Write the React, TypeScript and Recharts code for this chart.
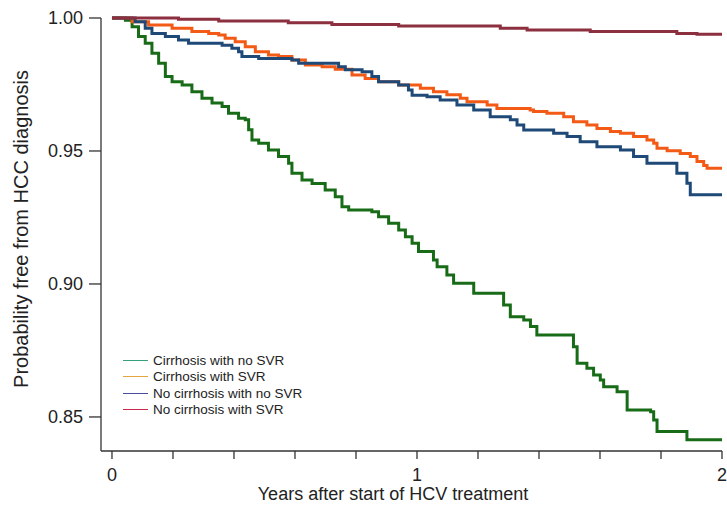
import { LineChart, Line, XAxis, YAxis, Legend } from "recharts";

// Kaplan-Meier estimates (years, survival)
const cirrNoSvrTimes = [0, 0.044, 0.066, 0.087, 0.109, 0.131, 0.153, 0.175, 0.197, 0.23, 0.262, 0.295, 0.328, 0.361, 0.382, 0.415, 0.437, 0.448, 0.459, 0.481, 0.513, 0.546, 0.579, 0.59, 0.623, 0.656, 0.699, 0.732, 0.754, 0.776, 0.852, 0.874, 0.907, 0.94, 0.962, 0.984, 1.005, 1.054, 1.066, 1.098, 1.12, 1.186, 1.284, 1.306, 1.35, 1.372, 1.393, 1.513, 1.525, 1.557, 1.579, 1.601, 1.612, 1.656, 1.689, 1.766, 1.776, 1.787, 1.885, 2.0];
const cirrNoSvrSurv = [1.0, 0.9992, 0.9967, 0.993, 0.9905, 0.9867, 0.983, 0.978, 0.976, 0.9748, 0.9723, 0.9698, 0.968, 0.9667, 0.9642, 0.9623, 0.9617, 0.958, 0.9541, 0.9529, 0.9504, 0.9479, 0.9454, 0.9416, 0.9391, 0.9378, 0.9353, 0.9328, 0.929, 0.9278, 0.9272, 0.9253, 0.9228, 0.9203, 0.9178, 0.9153, 0.9122, 0.909, 0.9065, 0.9034, 0.9003, 0.8965, 0.8921, 0.8877, 0.8865, 0.884, 0.8808, 0.8764, 0.8702, 0.8683, 0.8658, 0.8639, 0.8614, 0.8595, 0.8526, 0.852, 0.8489, 0.8445, 0.8414, 0.8414];

const cirrSvrTimes = [0, 0.066, 0.12, 0.197, 0.262, 0.317, 0.35, 0.371, 0.404, 0.437, 0.47, 0.513, 0.546, 0.59, 0.634, 0.689, 0.732, 0.787, 0.83, 0.874, 0.94, 1.011, 1.054, 1.098, 1.142, 1.164, 1.23, 1.262, 1.371, 1.382, 1.426, 1.481, 1.513, 1.557, 1.59, 1.634, 1.667, 1.71, 1.754, 1.776, 1.787, 1.82, 1.863, 1.896, 1.918, 1.94, 1.951, 2.0];
const cirrSvrSurv = [1.0, 0.9986, 0.9974, 0.9961, 0.9949, 0.9942, 0.9936, 0.9924, 0.9911, 0.9892, 0.9873, 0.9861, 0.9855, 0.9842, 0.9823, 0.9817, 0.9807, 0.9786, 0.9773, 0.976, 0.9748, 0.9736, 0.9723, 0.9711, 0.9698, 0.9685, 0.9673, 0.966, 0.9654, 0.9648, 0.9642, 0.9629, 0.961, 0.9598, 0.9585, 0.9573, 0.9567, 0.9554, 0.9541, 0.9529, 0.951, 0.9501, 0.9491, 0.9479, 0.946, 0.9445, 0.9435, 0.9435];

const noCirrNoSvrTimes = [0, 0.076, 0.109, 0.131, 0.175, 0.218, 0.251, 0.361, 0.393, 0.415, 0.426, 0.481, 0.59, 0.612, 0.743, 0.765, 0.82, 0.852, 0.874, 0.94, 0.972, 0.984, 1.033, 1.076, 1.131, 1.186, 1.24, 1.306, 1.328, 1.35, 1.448, 1.492, 1.535, 1.59, 1.667, 1.71, 1.754, 1.852, 1.885, 1.896, 2.0];
const noCirrNoSvrSurv = [1.0, 0.9986, 0.9961, 0.9942, 0.993, 0.9917, 0.9905, 0.9898, 0.9886, 0.9873, 0.9855, 0.9848, 0.9842, 0.983, 0.9817, 0.9805, 0.9798, 0.978, 0.976, 0.9748, 0.9729, 0.971, 0.9704, 0.9692, 0.9673, 0.9654, 0.9629, 0.9617, 0.9598, 0.9579, 0.9567, 0.9554, 0.9535, 0.9516, 0.9504, 0.9479, 0.9454, 0.9416, 0.9379, 0.9335, 0.9335];

const noCirrSvrTimes = [0, 0.218, 0.35, 0.578, 0.721, 0.94, 1.273, 1.361, 1.568, 1.852, 1.918, 2.0];
const noCirrSvrSurv = [1.0, 0.9995, 0.9989, 0.9982, 0.9976, 0.997, 0.9961, 0.9955, 0.9949, 0.9942, 0.9939, 0.9939];

const xTicks = [0, 0.2, 0.4, 0.6, 0.8, 1, 1.2, 1.4, 1.6, 1.8, 2];
const yTicks = [0.85, 0.9, 0.95, 1.0];

const toPoints = (times: number[], surv: number[]) =>
  times.map((t, i) => ({ t, s: surv[i] }));

const series = [
  { name: "Cirrhosis with no SVR", color: "#186c18", legendColor: "#35a07a", data: toPoints(cirrNoSvrTimes, cirrNoSvrSurv) },
  { name: "Cirrhosis with SVR", color: "#f25a16", legendColor: "#e6a43c", data: toPoints(cirrSvrTimes, cirrSvrSurv) },
  { name: "No cirrhosis with no SVR", color: "#1f4a78", legendColor: "#4c4c9c", data: toPoints(noCirrNoSvrTimes, noCirrNoSvrSurv) },
  { name: "No cirrhosis with SVR", color: "#8c2f3e", legendColor: "#c8284c", data: toPoints(noCirrSvrTimes, noCirrSvrSurv) },
];

const FONT = '"Liberation Sans", Arial, sans-serif';

const renderLegend = () => (
  <div style={{ fontFamily: FONT, fontSize: 13.5, color: "#222" }}>
    {series.map((s) => (
      <div key={s.name} style={{ display: "flex", alignItems: "center", height: 16.5 }}>
        <span style={{ display: "inline-block", width: 25, borderTop: `1.5px solid ${s.legendColor}`, marginRight: 5 }} />
        <span>{s.name}</span>
      </div>
    ))}
  </div>
);

const XTitle = () => (
  <text x={393} y={500} textAnchor="middle" fontSize={18} fill="#222" fontFamily={FONT}>
    Years after start of HCV treatment
  </text>
);

const YTitle = () => (
  <text x={28} y={229} transform="rotate(-90, 28, 229)" textAnchor="middle" fontSize={20} fill="#222" fontFamily={FONT}>
    Probability free from HCC diagnosis
  </text>
);

export default function App() {
  return (
    <div style={{ position: "absolute", left: 0, top: 0, width: 727, height: 505, background: "#fff", fontFamily: FONT }}>
      <LineChart width={727} height={505} margin={{ top: 18, right: 5, bottom: 0, left: 0 }}>
        <XAxis
          type="number"
          dataKey="t"
          domain={[-0.036, 2]}
          ticks={xTicks}
          tickFormatter={(v: number) => (Number.isInteger(v) ? String(v) : "")}
          tickSize={8}
          tickMargin={9}
          height={54}
          stroke="#333"
          strokeWidth={1.3}
          tick={{ fill: "#222", fontSize: 18 }}
          label={XTitle}
        />
        <YAxis
          type="number"
          dataKey="s"
          domain={[0.8372, 1]}
          ticks={yTicks}
          tickFormatter={(v: number) => v.toFixed(2)}
          tickSize={12}
          tickMargin={6}
          width={101}
          stroke="#333"
          strokeWidth={1.3}
          tick={{ fill: "#222", fontSize: 18 }}
          label={YTitle}
        />
        {series.map((s) => (
          <Line
            key={s.name}
            data={s.data}
            dataKey="s"
            name={s.name}
            type="stepAfter"
            stroke={s.color}
            strokeWidth={3}
            dot={false}
            activeDot={false}
            isAnimationActive={false}
          />
        ))}
        <Legend
          layout="vertical"
          align="center"
          verticalAlign="middle"
          wrapperStyle={{ left: 123, top: 352, width: 220 }}
          content={renderLegend}
        />
      </LineChart>
    </div>
  );
}
